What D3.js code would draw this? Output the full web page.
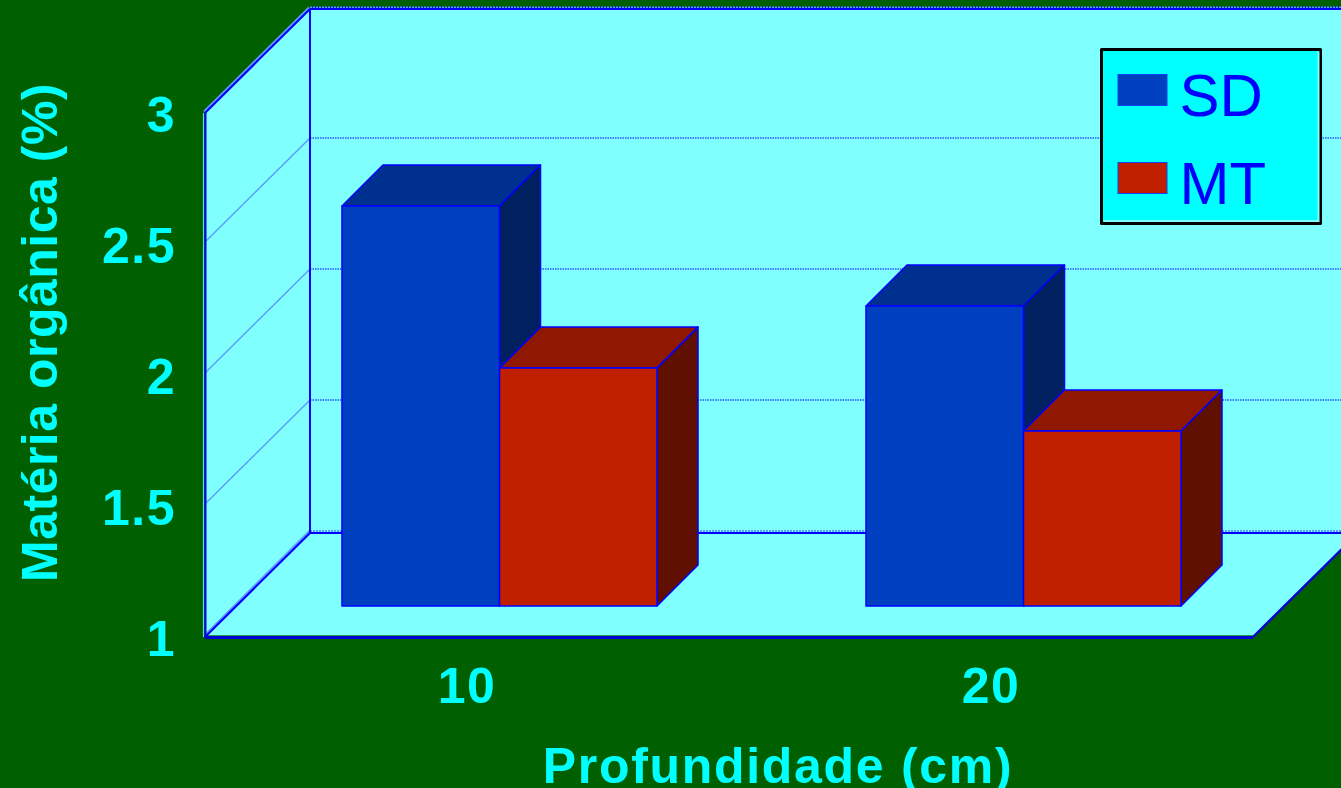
<!DOCTYPE html>
<html>
<head>
<meta charset="utf-8">
<script src="https://cdn.jsdelivr.net/npm/d3@7/dist/d3.min.js"></script>
<style>
html,body{margin:0;padding:0;background:#006000;overflow:hidden}
svg{display:block}
text{font-family:"Liberation Sans",Arial,sans-serif}
</style>
</head>
<body>
<svg id="chart" width="1341" height="788"></svg>
<script>
const categories = ["10", "20"];
const seriesNames = ["SD", "MT"];
const sdValues = [2.527, 2.145];
const mtValues = [1.908, 1.668];
const yTicks = [1, 1.5, 2, 2.5, 3];
const yTitle = "Matéria orgânica (%)";
const xTitle = "Profundidade (cm)";

const colors = {
  page: "#006000", wall: "#80FFFF", legend: "#00FFFF", line: "#0000FF", soft: "#5A9CFF", text: "#00FFFF",
  SD: {front: "#0040C0", top: "#00308F", side: "#002060"},
  MT: {front: "#C02000", top: "#901800", side: "#601000"}
};

const svg = d3.select("#chart");

// Front plane of the 3D box and the offset to its back plane
const plot = {left: 205, right: 1253, top: 113, bottom: 637};
const depth = {dx: 105, dy: -104};
const gridLift = 2;
const barInset = {dx: 32, dy: -31};
const barDepth = 41;

const x = d3.scaleBand().domain(categories).range([plot.left, plot.right]);
const y = d3.scaleLinear().domain([1, 3]).range([plot.bottom, plot.top]);
const inner = d3.scaleBand().domain(seriesNames).range([105, x.bandwidth() - 104]);

const poly = pts => "M" + pts.map(p => p.join(",")).join("L") + "Z";
const line = (g, a, b, o) => g.append("line")
  .attr("x1", a[0]).attr("y1", a[1]).attr("x2", b[0]).attr("y2", b[1])
  .attr("stroke", o.color || colors.line).attr("stroke-width", o.width || 1)
  .attr("stroke-dasharray", o.dash || null);

const box = svg.append("g");
const [x0, x1] = [plot.left, plot.right];
const [yb, yt] = [plot.bottom, plot.top];
const {dx, dy} = depth;

// Walls and floor
box.append("path").attr("fill", colors.wall)
  .attr("d", poly([[x0, yt], [x0 + dx, yt + dy], [x1 + dx, yt + dy], [x1 + dx, yb + dy], [x1, yb], [x0, yb]]));

// Gridlines running along the side wall and the back wall
yTicks.forEach(t => {
  const v = y(t) - gridLift;
  if (t > 1 && t < 3) {
    line(box, [x0, v], [x0 + dx, v + dy], {color: colors.soft, width: 1.5});
  }
  if (t > 1) {
    line(box, [x0 + dx, v + dy], [x1 + dx, v + dy], {dash: "1.5,1"});
  }
});

// Box edges, each with a pale companion line just outside it
const soft = {color: colors.soft, width: 2};
const softDash = {color: colors.soft, width: 2, dash: "2,1"};
line(box, [x0 - 1, yt - 1.5], [x0 + dx - 1, yt + dy - 1.5], soft);
line(box, [x0 + dx, yt + dy - 1.5], [x1 + dx, yt + dy - 1.5], softDash);
line(box, [x0 + 1, yb - 3], [x0 + dx, yb + dy - 2.5], soft);
line(box, [x0 + dx, yb + dy - 2], [x1 + dx, yb + dy - 2], softDash);
line(box, [x0 - 1.5, yt], [x0 - 1.5, yb], {color: "#60E0C0", width: 1.2});
line(box, [x0, yb - 1.5], [x1, yb - 1.5], {color: "#20A040", width: 1});

const edge = {width: 2};
line(box, [x0 + 0.5, yt], [x0 + 0.5, yb], edge);
line(box, [x0, yt], [x0 + dx, yt + dy], edge);
line(box, [x0 + dx, yt + dy], [x1 + dx, yt + dy], edge);
line(box, [x0 + dx, yt + dy], [x0 + dx, yb + dy], edge);
line(box, [x0, yb], [x0 + dx, yb + dy], edge);
line(box, [x0 + dx, yb + dy], [x1 + dx, yb + dy], edge);
line(box, [x0, yb + 0.5], [x1, yb + 0.5], {width: 3, color: "#0000D8"});
line(box, [x1, yb], [x1 + dx, yb + dy], {width: 2.4, color: "#0000D8"});

// Bars as 3D blocks: top, side, then front face
const barRows = categories.flatMap((c, i) => [
  {cat: c, name: "SD", value: sdValues[i]},
  {cat: c, name: "MT", value: mtValues[i]}
]);

svg.append("g").selectAll("g").data(barRows).join("g")
  .each(function (d) {
    const g = d3.select(this);
    const c = colors[d.name];
    const l = x(d.cat) + inner(d.name) + barInset.dx;
    const r = l + inner.bandwidth();
    const t = y(d.value) + barInset.dy;
    const b = y(1) + barInset.dy;
    const k = barDepth;
    const face = (pts, fill) => g.append("path").attr("d", poly(pts)).attr("fill", fill)
      .attr("stroke", colors.line).attr("stroke-width", 1.5).attr("stroke-linejoin", "round");
    face([[l, t], [l + k, t - k], [r + k, t - k], [r, t]], c.top);
    face([[r, t], [r + k, t - k], [r + k, b - k], [r, b]], c.side);
    face([[l, t], [r, t], [r, b], [l, b]], c.front);
  });

// Value axis
const labelStyle = g => g.selectAll("text")
  .attr("fill", colors.text).attr("font-size", 50).attr("font-weight", "bold")
  .attr("font-family", '"Liberation Sans",Arial,sans-serif')
  .attr("letter-spacing", 1.5);

const yAxis = svg.append("g")
  .attr("transform", `translate(${plot.left},0)`)
  .call(d3.axisLeft(y).tickValues(yTicks).tickSize(0).tickPadding(29).tickFormat(d3.format("~g")));
yAxis.select(".domain").remove();
labelStyle(yAxis);
yAxis.selectAll("text").attr("dy", 18);

// Category axis
const xAxis = svg.append("g")
  .attr("transform", `translate(0,${plot.bottom})`)
  .call(d3.axisBottom(x).tickSize(0).tickPadding(0));
xAxis.select(".domain").remove();
labelStyle(xAxis);
xAxis.selectAll("text").attr("y", 66).attr("dy", 0);

// Axis titles
svg.append("text")
  .attr("transform", "translate(57,332.5) rotate(-90)")
  .attr("text-anchor", "middle")
  .attr("fill", colors.text).attr("font-size", 50).attr("font-weight", "bold")
  .attr("letter-spacing", 0.5)
  .text(yTitle);

svg.append("text")
  .attr("x", 778).attr("y", 783)
  .attr("text-anchor", "middle")
  .attr("fill", colors.text).attr("font-size", 50).attr("font-weight", "bold")
  .attr("letter-spacing", 1.7)
  .text(xTitle);

// Legend
const legend = svg.append("g").attr("transform", "translate(1101.5,49.5)");
legend.append("rect").attr("width", 219).attr("height", 174)
  .attr("fill", colors.legend).attr("stroke", "#000").attr("stroke-width", 3).attr("stroke-linejoin", "round");
legend.append("path").attr("d", "M2,171.5H217V2").attr("fill", "none")
  .attr("stroke", colors.wall).attr("stroke-width", 2);

const legendRow = d3.scalePoint().domain(seriesNames).range([25, 113]);
seriesNames.forEach(n => {
  legend.append("rect")
    .attr("x", 16.5).attr("y", legendRow(n)).attr("width", 49).attr("height", 31)
    .attr("fill", colors[n].front).attr("stroke", "#1040F0").attr("stroke-width", 1);
  legend.append("text")
    .attr("x", 78).attr("y", legendRow(n) + 41)
    .attr("fill", colors.line).attr("font-size", 60)
    .text(n);
});
</script>
</body>
</html>
